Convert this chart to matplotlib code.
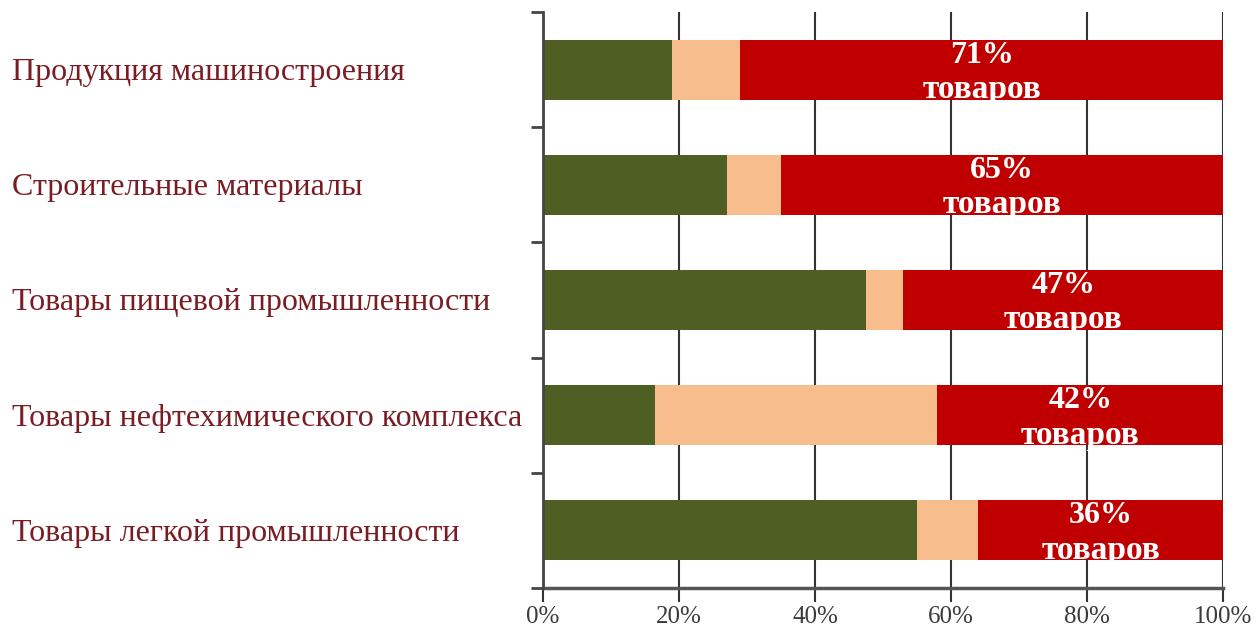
import numpy as np
from matplotlib import pyplot as plt

categories = ['Продукция машиностроения', 'Строительные материалы',
              'Товары пищевой промышленности', 'Товары нефтехимического комплекса',
              'Товары легкой промышленности']
green_vals = [19, 27, 47.5, 16.5, 55]
peach_vals = [10, 8, 5.5, 41.5, 9]
red_vals = [71, 65, 47, 42, 36]

plt.rcParams['font.family'] = ['Liberation Serif', 'DejaVu Serif']

fig = plt.figure(figsize=(12.57, 6.30), dpi=100)
ax = fig.add_axes([543 / 1257, 1 - 588 / 630, 680 / 1257, 576 / 630])

y = np.arange(len(categories))
green = np.array(green_vals)
peach = np.array(peach_vals)
red = np.array(red_vals)

ax.barh(y, green, height=0.52, color='#4f5f23', zorder=3)
ax.barh(y, peach, left=green, height=0.52, color='#f8bd8c', zorder=3)
ax.barh(y, red, left=green + peach, height=0.52, color='#c00000', zorder=3)

for i in range(len(categories)):
    cx = green[i] + peach[i] + red[i] / 2
    ax.text(cx, y[i] - 0.06, '%d%%' % red_vals[i], ha='center', va='baseline',
            color='white', fontsize=23, fontweight='bold', zorder=5)
    ax.text(cx, y[i] + 0.247, 'товаров', ha='center', va='baseline',
            color='white', fontsize=24, fontweight='bold', zorder=5)
    ax.text(-0.781, y[i] + 0.09, categories[i], transform=ax.get_yaxis_transform(),
            ha='left', va='baseline', color='#7a1c24', fontsize=23)

ax.set_xlim(0, 100)
ax.set_ylim(len(categories) - 0.5, -0.5)
ax.set_xticks(np.arange(0, 101, 20))
ax.set_xticklabels(['%d%%' % v for v in range(0, 101, 20)], fontsize=18, color='#3a3a3a')
ax.set_yticks(np.arange(-0.5, len(categories), 1))
ax.set_yticklabels([])
ax.tick_params(axis='y', length=9, width=2, color='#444444', direction='out')
ax.tick_params(axis='x', length=10, width=1.5, color='#333333', direction='out', pad=3)
ax.grid(axis='x', color='#333333', linewidth=1.5, zorder=1)

for s in ['top', 'right']:
    ax.spines[s].set_visible(False)
ax.spines['left'].set_color('#444444')
ax.spines['left'].set_linewidth(2)
ax.spines['bottom'].set_color('#555555')
ax.spines['bottom'].set_linewidth(2.5)
ax.spines['left'].set_zorder(4)

plt.savefig('out.png', dpi=100)
plt.close()
